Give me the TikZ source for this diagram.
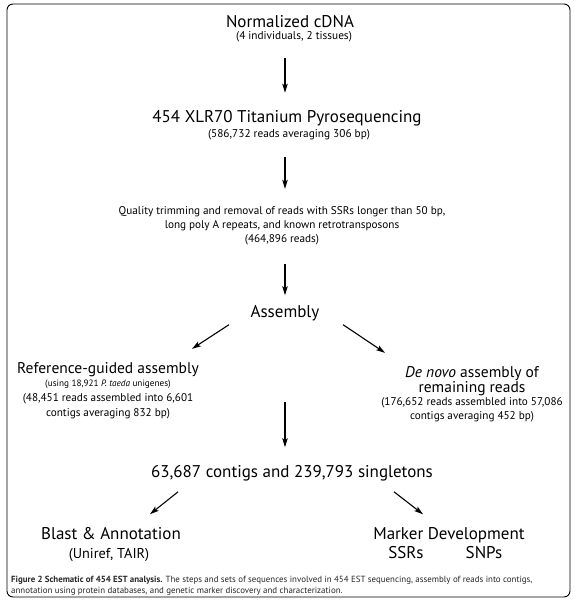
\documentclass[tikz,border=0pt]{standalone}
\usepackage{fontspec}
\setmainfont{PT Sans}
\usetikzlibrary{arrows.meta}

\begin{document}
\begin{tikzpicture}[x=1pt, y=-1pt,
        ttl/.style={anchor=base, inner sep=0pt, font=\fontsize{17}{20}\selectfont},
        ttlb/.style={anchor=base, inner sep=0pt, align=center, font=\fontsize{15.5}{15}\selectfont},
        sub/.style={anchor=base, inner sep=0pt, font=\fontsize{11.3}{13}\selectfont},
        txt/.style={anchor=base, inner sep=0pt, align=center, font=\fontsize{11.2}{14}\selectfont},
        arr/.style={-{Stealth[length=9pt,width=5.5pt,inset=2pt]}, line width=1.1pt}]
        \useasboundingbox (0,0) rectangle (576,600);
        \draw[rounded corners=6pt, line width=0.9pt] (7,4) rectangle (570,597);
        \node[ttl] (cdna) at (290,27) {Normalized cDNA};
        \node[sub] (cdnainfo) at (294,39.5) {(4 individuals, 2 tissues)};
        \node[ttl] (seq) at (287,122) {454 XLR70 Titanium Pyrosequencing};
        \node[sub] (seqinfo) at (289,137) {(586,732 reads averaging 306 bp)};
        \node[txt] (trim) at (282,242) {Quality trimming and removal of reads with SSRs longer than 50 bp,\\
              long poly A repeats, and known retrotransposons\\(464,896 reads)};
        \node[ttl] (asm) at (285,317) {Assembly};
        \node[ttlb] (ref) at (108,373) {Reference-guided assembly};
        \node[sub, font=\fontsize{9.2}{10}\selectfont] (refuse) at (108,386) {(using 18,921 \textit{P. taeda} unigenes)};
        \node[txt, font=\fontsize{11.2}{15}\selectfont] (refinfo) at (108,416) {(48,451 reads assembled into 6,601\\contigs averaging 832 bp)};
        \node[ttlb] (novo) at (472,392) {\textit{De novo} assembly of\\remaining reads};
        \node[txt, font=\fontsize{11.2}{13.5}\selectfont] (novoinfo) at (472,419) {(176,652 reads assembled into 57,086\\contigs averaging 452 bp)};
        \coordinate (merge) at (285,402);
        \node[ttl] (all) at (292,477) {63,687 contigs and 239,793 singletons};
        \node[ttl] (blast) at (111,539) {Blast \& Annotation};
        \node[ttlb, font=\fontsize{14.3}{15}\selectfont] (blastinfo) at (109,558) {(Uniref, TAIR)};
        \node[ttl] (marker) at (449,539) {Marker Development};
        \node[ttl] (ssr) at (406,558) {SSRs};
        \node[ttl] (snp) at (484,558) {SNPs};
        \node[anchor=base west, inner sep=0pt, align=left, text=black!85, font=\fontsize{8.9}{11}\selectfont] (cap) at (11,593)
              {\textbf{Figure 2 Schematic of 454 EST analysis.} The steps and sets of sequences involved in 454 EST sequencing, assembly of reads into contigs,\\
              annotation using protein databases, and genetic marker discovery and characterization.};
        \draw[arr, shorten <=16pt, shorten >=17pt] (cdnainfo.south -| asm) -- (seq.north -| asm);
        \draw[arr, shorten <=17pt, shorten >=17pt] (seqinfo.south -| asm) -- (trim.north -| asm);
        \draw[arr, shorten <=19pt, shorten >=9.5pt] (trim.south -| asm) -- (asm.north);
        \draw[arr] ([xshift=-56pt,yshift=-4pt]asm.south) -- ([xshift=84pt,yshift=13pt]ref.north);
        \draw[arr] ([xshift=58pt,yshift=-4pt]asm.south) -- ([xshift=-87pt,yshift=13pt]novo.north);
        \draw[arr, shorten >=17.5pt] (merge) -- (all.north -| merge);
        \draw[arr] ([xshift=-114pt,yshift=-11pt]all.south) -- ([xshift=39pt,yshift=12.5pt]blast.north);
        \draw[arr] ([xshift=102pt,yshift=-11pt]all.south) -- ([xshift=-26pt,yshift=12.5pt]marker.north);
    \end{tikzpicture}
\end{document}
